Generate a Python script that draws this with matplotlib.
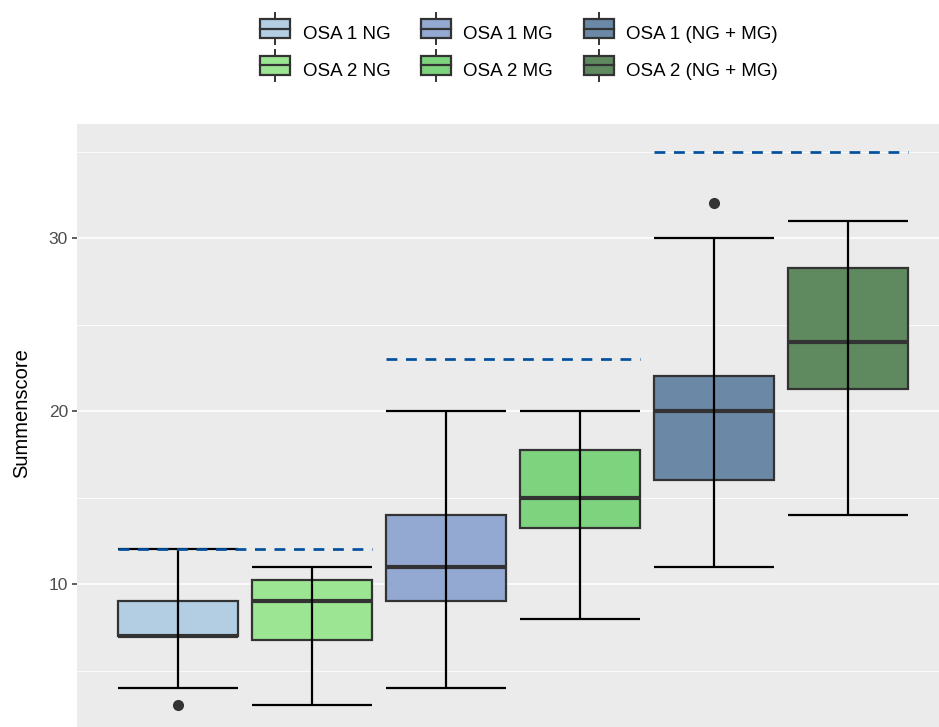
import numpy as np
import matplotlib
matplotlib.use("Agg")
import matplotlib.pyplot as plt
from matplotlib.patches import Rectangle
from matplotlib.lines import Line2D
from matplotlib.legend_handler import HandlerBase

plt.rcParams["font.family"] = ["Liberation Sans", "DejaVu Sans"]

# ===== Daten (Boxplot-Kennwerte je Gruppe) =====
labels = ["OSA 1 NG", "OSA 2 NG", "OSA 1 MG", "OSA 2 MG",
          "OSA 1 (NG + MG)", "OSA 2 (NG + MG)"]
fills = ["#B3CDE3", "#9CE593", "#93A9D2", "#7ED37E", "#6B89A6", "#5F895F"]
whis_lo = [4, 3, 4, 8, 11, 14]
q1 = [7, 6.75, 9, 13.25, 16, 21.25]
median = [7, 9, 11, 15, 20, 24]
q3 = [9, 10.25, 14, 17.75, 22, 28.25]
whis_hi = [12, 11, 20, 20, 30, 31]
outliers = [[3], [], [], [], [32], []]

# Maximal erreichbare Punktzahl je Teil (NG, MG, NG + MG)
max_score = [12, 23, 35]

BOX_W = 0.9
EDGE = "#333333"

fig = plt.figure(figsize=(9.39, 7.27), dpi=100)
ax = fig.add_axes([77 / 939, 0.0, 1 - 77 / 939, 1 - 124 / 727])
ax.set_facecolor("#EBEBEB")
for s in ax.spines.values():
    s.set_visible(False)

pos = np.arange(1, len(labels) + 1)

for i, x in enumerate(pos):
    ax.add_patch(Rectangle((x - BOX_W / 2, q1[i]), BOX_W, q3[i] - q1[i],
                           facecolor=fills[i], edgecolor=EDGE, lw=1.6, zorder=3))
    ax.hlines(median[i], x - BOX_W / 2, x + BOX_W / 2, color=EDGE, lw=3.0, zorder=4)
    # Fehlerbalken (Whisker) über der Box
    ax.vlines(x, whis_lo[i], whis_hi[i], color="black", lw=1.6, zorder=5)
    ax.hlines([whis_lo[i], whis_hi[i]], x - BOX_W / 2, x + BOX_W / 2,
              color="black", lw=1.6, zorder=5)
    if outliers[i]:
        ax.plot([x] * len(outliers[i]), outliers[i], "o", color=EDGE,
                ms=7, zorder=6)

# gestrichelte Linie: Maximalpunktzahl
for g, m in enumerate(max_score):
    x0 = pos[2 * g] - BOX_W / 2
    x1 = pos[2 * g + 1] + BOX_W / 2
    ax.plot([x0, x1], [m, m], color="#00509F", lw=1.95,
            dashes=(4.0, 3.2), zorder=7, solid_capstyle="butt")

ax.set_xlim(1 - 101 / 134, 6 + 91 / 134)
ax.set_ylim(10 - 143 / 17.3, 30 + 114 / 17.3)
ax.set_yticks([10, 20, 30])
ax.set_yticks([5, 15, 25, 35], minor=True)
ax.set_xticks([])
ax.grid(which="major", axis="y", color="white", lw=1.1, zorder=0)
ax.grid(which="minor", axis="y", color="white", lw=0.55, zorder=0)
ax.set_axisbelow(True)
ax.tick_params(axis="y", which="major", length=3.5, width=1.1, color="#333333",
               labelcolor="#4D4D4D", labelsize=12.5, pad=3)
ax.tick_params(axis="y", which="minor", length=0)
ax.set_ylabel("Summenscore", fontsize=14.5)
ax.yaxis.set_label_coords(-0.053, 0.52)


class BoxKey(HandlerBase):
    """Legendensymbol im Boxplot-Stil"""
    def create_artists(self, legend, orig, xd, yd, w, h, fontsize, trans):
        fc = orig.get_facecolor()
        cx = xd + w / 2
        bh = h * 1.15
        by = yd + h / 2 - bh / 2
        wl = Line2D([cx, cx], [by - h * 0.35, by + bh + h * 0.35],
                    color=EDGE, lw=1.4, transform=trans)
        r = Rectangle((xd, by), w, bh, facecolor=fc, edgecolor=EDGE,
                      lw=1.6, transform=trans)
        md = Line2D([xd, xd + w], [yd + h / 2, yd + h / 2], color=EDGE,
                    lw=1.6, transform=trans)
        return [wl, r, md]


handles = [Rectangle((0, 0), 1, 1, facecolor=c) for c in fills]
fig.legend(handles, labels, handler_map={Rectangle: BoxKey()}, ncol=3,
           loc="upper center", bbox_to_anchor=(0.553, 0.99), frameon=False,
           fontsize=13.5, handlelength=1.6, handleheight=1.0, handletextpad=0.65,
           columnspacing=1.65, labelspacing=0.95)

fig.savefig("out.png", dpi=100)
